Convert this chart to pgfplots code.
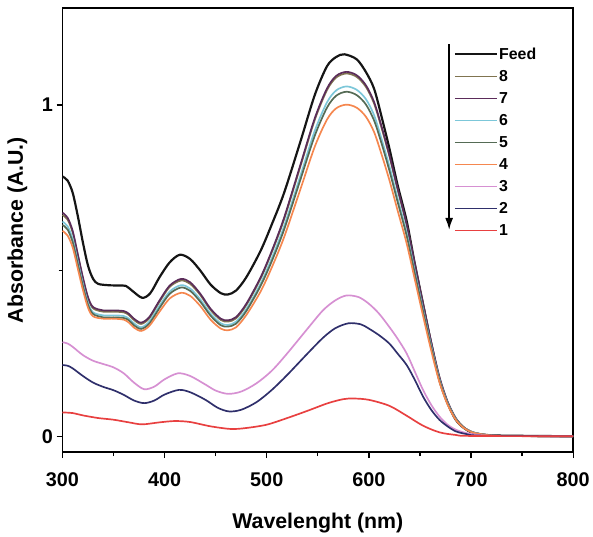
\documentclass[border=0pt]{standalone}
\usepackage{pgfplots}
\pgfplotsset{compat=1.18}
\usepackage{fontspec}
\setmainfont{Liberation Sans}
\usetikzlibrary{arrows.meta}
\definecolor{cfeed}{HTML}{151515}
\definecolor{c8}{HTML}{807450}
\definecolor{c7}{HTML}{5B2C5A}
\definecolor{c6}{HTML}{7CC7D9}
\definecolor{c5}{HTML}{556B55}
\definecolor{c4}{HTML}{F5874F}
\definecolor{c3}{HTML}{D690D2}
\definecolor{c2}{HTML}{2F2F6B}
\definecolor{c1}{HTML}{E84040}
\begin{document}
\begin{tikzpicture}
\begin{axis}[
  scale only axis, width=515pt, height=448pt,
  xmin=300, xmax=800, ymin=-0.048, ymax=1.293,
  xtick={300,400,500,600,700,800},
  minor xtick={350,450,550,650,750},
  ytick={0,1}, minor ytick={0.5},
  tick pos=left, tick align=outside,
  major tick length=6pt, minor tick length=4pt,
  every tick/.style={line width=1.3pt, black},
  axis line style={line width=1.5pt},
  /pgf/number format/assume math mode=true,
  tick label style={font=\bfseries\fontsize{20}{20}\selectfont},
  xticklabel style={yshift=-11pt},
  xlabel={Wavelenght (nm)}, ylabel={Absorbance (A.U.)},
  label style={font=\bfseries\fontsize{21.5}{21.5}\selectfont},
  xlabel style={yshift=-20pt},
  ylabel style={yshift=8pt},
  clip=false,
  legend cell align=left,
  legend style={draw=none, fill=none, at={(axis cs:683,1.178)}, anchor=north west,
    font=\bfseries\fontsize{16}{16}\selectfont, row sep=6.6pt, inner sep=0pt,
    nodes={inner sep=1.5pt}},
  legend image code/.code={\draw[#1] (0pt,0pt) -- (42pt,0pt);},
  every axis plot/.append style={line width=1.7pt, smooth},
]
\addplot[cfeed, line width=2.2pt] coordinates {
(300,0.784)(305,0.772)(310,0.735)(315,0.665)(320,0.585)(325,0.515)(330,0.475)(335,0.46)(345,0.456)(355,0.455)(362,0.454)(368,0.44)(378,0.418)(386,0.432)(395,0.48)(405,0.525)(415,0.548)(425,0.535)(435,0.5)(445,0.458)(455,0.432)(462,0.428)(470,0.44)(480,0.48)(494,0.56)(505,0.64)(517,0.735)(533,0.89)(547,1.03)(559,1.117)(568,1.145)(576,1.153)(588,1.138)(597,1.10)(605,1.05)(612,0.97)(620,0.87)(628,0.76)(637,0.65)(645,0.52)(653,0.40)(661,0.28)(669,0.17)(677,0.10)(685,0.05)(693,0.025)(702,0.01)(715,0.004)(730,0.002)(800,0)};
\addlegendentry{Feed}
\addplot[c8] coordinates {
(300,0.668)(305,0.654)(310,0.615)(315,0.546)(320,0.476)(325,0.417)(330,0.386)(340,0.376)(350,0.376)(360,0.374)(365,0.366)(370,0.351)(377,0.339)(385,0.356)(395,0.406)(405,0.451)(416,0.47)(425,0.46)(435,0.426)(445,0.381)(455,0.351)(462,0.346)(470,0.356)(480,0.396)(494,0.476)(505,0.556)(517,0.655)(533,0.815)(547,0.955)(559,1.045)(568,1.083)(578,1.095)(588,1.085)(597,1.055)(605,1.005)(612,0.935)(620,0.846)(628,0.746)(637,0.637)(645,0.517)(653,0.398)(661,0.283)(669,0.179)(677,0.104)(685,0.055)(693,0.027)(702,0.012)(715,0.004)(730,0.001)(800,0)};
\addlegendentry{8}
\addplot[c7] coordinates {
(300,0.675)(305,0.66)(310,0.62)(315,0.55)(320,0.48)(325,0.42)(330,0.39)(340,0.38)(350,0.38)(360,0.378)(365,0.37)(370,0.355)(377,0.343)(385,0.36)(395,0.41)(405,0.455)(416,0.475)(425,0.465)(435,0.43)(445,0.385)(455,0.355)(462,0.35)(470,0.36)(480,0.40)(494,0.48)(505,0.56)(517,0.66)(533,0.82)(547,0.96)(559,1.05)(568,1.088)(578,1.10)(588,1.09)(597,1.06)(605,1.01)(612,0.94)(620,0.85)(628,0.75)(637,0.64)(645,0.52)(653,0.40)(661,0.285)(669,0.18)(677,0.105)(685,0.055)(693,0.027)(702,0.012)(715,0.004)(730,0.001)(800,0)};
\addlegendentry{7}
\addplot[c6] coordinates {
(300,0.648)(305,0.634)(310,0.595)(315,0.528)(320,0.461)(325,0.403)(330,0.374)(340,0.365)(350,0.365)(360,0.363)(365,0.355)(370,0.341)(377,0.329)(385,0.346)(395,0.394)(405,0.437)(416,0.456)(425,0.446)(435,0.413)(445,0.370)(455,0.341)(462,0.336)(470,0.346)(480,0.384)(494,0.461)(505,0.538)(517,0.634)(533,0.787)(547,0.922)(559,1.008)(568,1.044)(578,1.056)(588,1.046)(597,1.018)(605,0.970)(612,0.902)(620,0.816)(628,0.72)(637,0.614)(645,0.499)(653,0.384)(661,0.274)(669,0.173)(677,0.101)(685,0.053)(693,0.026)(702,0.012)(715,0.004)(730,0.001)(800,0)};
\addlegendentry{6}
\addplot[c5] coordinates {
(300,0.638)(305,0.624)(310,0.586)(315,0.520)(320,0.454)(325,0.397)(330,0.369)(340,0.359)(350,0.359)(360,0.357)(365,0.350)(370,0.335)(377,0.324)(385,0.340)(395,0.387)(405,0.430)(416,0.449)(425,0.439)(435,0.406)(445,0.364)(455,0.335)(462,0.331)(470,0.340)(480,0.378)(494,0.454)(505,0.529)(517,0.624)(533,0.775)(547,0.907)(559,0.992)(568,1.028)(578,1.040)(588,1.030)(597,1.002)(605,0.954)(612,0.888)(620,0.803)(628,0.709)(637,0.605)(645,0.491)(653,0.378)(661,0.269)(669,0.170)(677,0.099)(685,0.052)(693,0.026)(702,0.011)(715,0.004)(730,0.001)(800,0)};
\addlegendentry{5}
\addplot[c4] coordinates {
(300,0.620)(305,0.606)(310,0.570)(315,0.506)(320,0.442)(325,0.388)(330,0.362)(340,0.355)(350,0.355)(360,0.352)(365,0.343)(370,0.328)(377,0.318)(385,0.333)(395,0.376)(405,0.416)(416,0.433)(425,0.424)(435,0.393)(445,0.352)(455,0.325)(462,0.320)(470,0.329)(480,0.366)(494,0.437)(505,0.510)(517,0.601)(533,0.746)(547,0.874)(559,0.956)(568,0.990)(578,1.001)(588,0.992)(597,0.965)(605,0.919)(612,0.855)(620,0.774)(628,0.683)(637,0.582)(645,0.473)(653,0.364)(661,0.259)(669,0.164)(677,0.096)(685,0.050)(693,0.025)(702,0.011)(715,0.004)(730,0.001)(800,0)};
\addlegendentry{4}
\addplot[c3] coordinates {
(300,0.284)(305,0.28)(310,0.27)(320,0.245)(330,0.228)(340,0.218)(350,0.208)(360,0.19)(370,0.162)(380,0.142)(390,0.15)(400,0.172)(413,0.19)(425,0.182)(440,0.156)(450,0.138)(462,0.128)(475,0.135)(490,0.16)(505,0.198)(520,0.25)(540,0.325)(555,0.38)(567,0.41)(578,0.425)(590,0.42)(600,0.4)(610,0.37)(620,0.33)(628,0.295)(637,0.25)(645,0.195)(653,0.14)(661,0.095)(669,0.06)(677,0.035)(685,0.02)(695,0.01)(710,0.003)(730,0.001)(800,0)};
\addlegendentry{3}
\addplot[c2] coordinates {
(300,0.215)(305,0.213)(310,0.205)(320,0.182)(330,0.162)(340,0.149)(350,0.139)(360,0.125)(370,0.108)(380,0.10)(390,0.108)(400,0.126)(414,0.14)(425,0.133)(440,0.11)(452,0.086)(463,0.075)(475,0.08)(490,0.103)(505,0.14)(520,0.185)(540,0.25)(555,0.297)(567,0.326)(580,0.341)(592,0.338)(600,0.325)(610,0.305)(620,0.28)(628,0.25)(637,0.215)(645,0.17)(653,0.12)(661,0.08)(669,0.05)(677,0.03)(685,0.015)(695,0.007)(710,0.002)(800,0)};
\addlegendentry{2}
\addplot[c1] coordinates {
(300,0.072)(310,0.07)(320,0.063)(335,0.055)(350,0.05)(365,0.042)(378,0.036)(395,0.042)(410,0.046)(425,0.043)(445,0.03)(465,0.022)(480,0.025)(500,0.035)(520,0.055)(540,0.077)(560,0.1)(575,0.112)(585,0.114)(600,0.11)(620,0.092)(637,0.062)(653,0.032)(669,0.012)(685,0.004)(700,0.001)(800,0)};
\addlegendentry{1}
\draw[line width=1.6pt, -{Latex[length=12pt,width=8pt]}] (axis cs:678.6,1.183) -- (axis cs:678.6,0.623);
\path (rel axis cs:0,0) ++(-63pt,-84pt) coordinate (bl);
\path (rel axis cs:1,1) ++(15pt,8pt) coordinate (tr);
\end{axis}
\useasboundingbox (bl) rectangle (tr);
\end{tikzpicture}
\end{document}
